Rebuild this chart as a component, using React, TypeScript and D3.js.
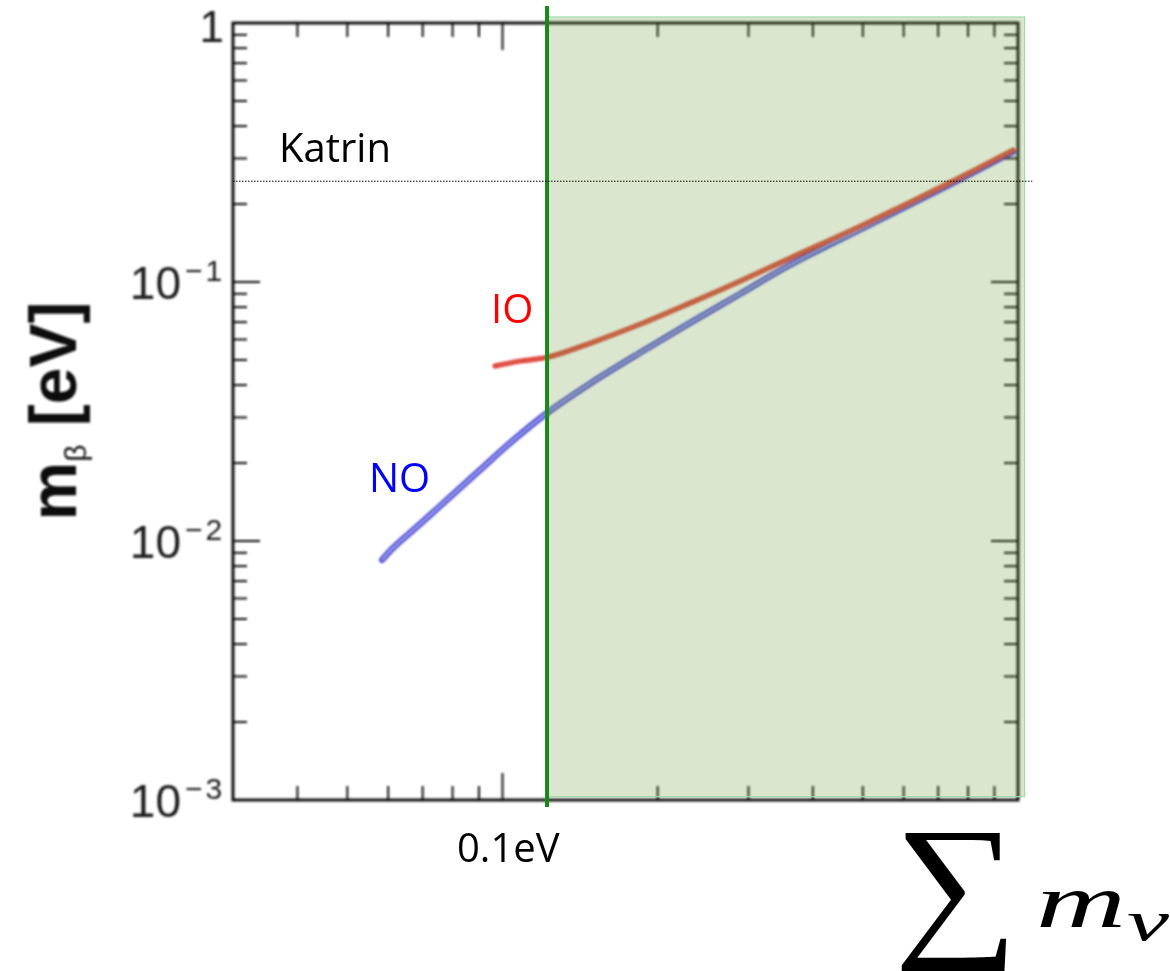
import React from 'react';
import * as d3 from 'd3';

const W = 1170;
const H = 971;

// Axis domains: sum of neutrino masses (eV) vs effective beta-decay mass (eV)
const xDomain: [number, number] = [0.03, 1];
const yDomain: [number, number] = [0.001, 1];

const xMajorTicks = [0.1];
const xMinorTicks = [0.04, 0.05, 0.06, 0.07, 0.08, 0.09, 0.2, 0.3, 0.4, 0.5, 0.6, 0.7, 0.8, 0.9];
const yMajorTicks = [0.01, 0.1];
const yMinorTicks = [2, 3, 4, 5, 6, 7, 8, 9].flatMap((m) => [m * 0.001, m * 0.01, m * 0.1]);

const yTickValues = [1, 0.1, 0.01, 0.001];
const yTickBases = ['1', '10', '10', '10'];
const yTickExponents = ['', '−1', '−2', '−3'];

// Inverted ordering (IO) band
const ioSum = [0.0967, 0.1081, 0.1231, 0.1478, 0.1848, 0.2311, 0.2888, 0.3612, 0.5004, 0.7284, 0.9779];
const ioMbeta = [0.0474, 0.0495, 0.0514, 0.058, 0.0687, 0.0829, 0.1007, 0.1236, 0.166, 0.239, 0.323];

// Normal ordering (NO) band
const noSum = [0.0584, 0.061, 0.0692, 0.0791, 0.0904, 0.1034, 0.122, 0.1478, 0.1848, 0.2311, 0.2888, 0.3612, 0.5004, 0.7284, 0.9779];
const noMbeta = [0.00845, 0.00931, 0.01163, 0.01479, 0.01879, 0.0239, 0.0312, 0.0405, 0.0533, 0.0695, 0.0899, 0.1164, 0.1616, 0.2348, 0.318];

// Cosmological bound and shaded excluded region
const cosmoBound = 0.122;
const cosmoLineTop = 1.163;
const cosmoLineBottom = 0.00094;
const shadeRight = 1.03;
const shadeTop = 1.055;
const shadeBottom = 0.00103;

// KATRIN sensitivity
const katrin = 0.245;
const katrinRight = 1.066;

const margin = { left: 233, top: 23, right: 1018, bottom: 800 };

export default function App() {
  const x = d3.scaleLog().domain(xDomain).range([margin.left, margin.right]);
  const y = d3.scaleLog().domain(yDomain).range([margin.bottom, margin.top]);

  const line = d3
    .line<[number, number]>()
    .x((d) => x(d[0]))
    .y((d) => y(d[1]))
    .curve(d3.curveCatmullRom.alpha(0.5));

  const ioPts = ioSum.map((s, i) => [s, ioMbeta[i]] as [number, number]);
  const noPts = noSum.map((s, i) => [s, noMbeta[i]] as [number, number]);

  const majorLen = 27;
  const minorLen = 14;
  const axisColor = '#111';

  return (
    <svg
      width={W}
      height={H}
      viewBox={`0 0 ${W} ${H}`}
      style={{ position: 'absolute', left: 0, top: 0, background: '#fff' }}
    >
      <defs>
        <filter id="soft" x="-5%" y="-5%" width="110%" height="110%">
          <feGaussianBlur stdDeviation="0.8" />
        </filter>
      </defs>
      <rect x={0} y={0} width={W} height={H} fill="#fff" />

      <g filter="url(#soft)">
        {/* bands */}
        <path d={line(noPts) || ''} fill="none" stroke="#3434d4" strokeWidth={6} strokeLinecap="round" strokeLinejoin="round" />
        <path d={line(noPts) || ''} fill="none" stroke="#a8a8f0" strokeWidth={2} strokeLinecap="round" />
        <path d={line(ioPts) || ''} fill="none" stroke="#d82a22" strokeWidth={5} strokeLinecap="round" strokeLinejoin="round" />
        <path d={line(ioPts) || ''} fill="none" stroke="#ec6a5a" strokeWidth={1.5} strokeLinecap="round" />

        {/* frame */}
        <rect
          x={margin.left}
          y={margin.top}
          width={margin.right - margin.left}
          height={margin.bottom - margin.top}
          fill="none"
          stroke={axisColor}
          strokeWidth={3}
        />

        {/* x ticks, bottom and top, pointing inward */}
        {xMajorTicks.concat(xMinorTicks).map((v) => {
          const len = xMajorTicks.includes(v) ? majorLen : minorLen;
          const px = x(v);
          return (
            <g key={`xt${v}`}>
              <line x1={px} x2={px} y1={margin.bottom} y2={margin.bottom - len} stroke={axisColor} strokeWidth={2} />
              <line x1={px} x2={px} y1={margin.top} y2={margin.top + len} stroke={axisColor} strokeWidth={2} />
            </g>
          );
        })}

        {/* y ticks, left and right, pointing inward */}
        {yMajorTicks.concat(yMinorTicks).map((v) => {
          const len = yMajorTicks.includes(v) ? majorLen : minorLen;
          const py = y(v);
          return (
            <g key={`yt${v}`}>
              <line x1={margin.left} x2={margin.left + len} y1={py} y2={py} stroke={axisColor} strokeWidth={2} />
              <line x1={margin.right} x2={margin.right - len} y1={py} y2={py} stroke={axisColor} strokeWidth={2} />
            </g>
          );
        })}

        {/* y tick labels */}
        {yTickValues.map((v, i) =>
          yTickExponents[i] ? (
            <g key={`yl${v}`} fontFamily="'Liberation Sans', Arial, sans-serif" fill="#1e1e1e">
              <text x={181} y={y(v) + 17} textAnchor="end" fontSize={46}>
                {yTickBases[i]}
              </text>
              <text x={185} y={y(v) - 1} fontSize={30} letterSpacing={3}>
                {yTickExponents[i]}
              </text>
            </g>
          ) : (
            <text
              key={`yl${v}`}
              x={224}
              y={y(v) + 19}
              textAnchor="end"
              fontFamily="'Liberation Sans', Arial, sans-serif"
              fontSize={44}
              fill="#1e1e1e"
            >
              {yTickBases[i]}
            </text>
          )
        )}

        {/* y axis title */}
        <text
          transform="translate(76,411) rotate(-90)"
          textAnchor="middle"
          fontFamily="'Liberation Sans', Arial, sans-serif"
          fontWeight="bold"
          fontSize={66}
          fill="#111"
        >
          m
          <tspan fontSize={30} fontWeight="normal" dy={10}>
            β
          </tspan>
          <tspan dy={-10}> [eV]</tspan>
        </text>
      </g>

      {/* excluded region */}
      <rect
        x={x(cosmoBound)}
        y={y(shadeTop)}
        width={x(shadeRight) - x(cosmoBound)}
        height={y(shadeBottom) - y(shadeTop)}
        fill="#6a9a3a"
        fillOpacity={0.25}
        stroke="#9fdca8"
        strokeWidth={1.2}
      />

      {/* cosmological bound */}
      <line
        x1={x(cosmoBound)}
        x2={x(cosmoBound)}
        y1={y(cosmoLineTop)}
        y2={y(cosmoLineBottom)}
        stroke="#168a16"
        strokeWidth={4}
      />

      {/* KATRIN line */}
      <line
        x1={x(xDomain[0])}
        x2={x(katrinRight)}
        y1={y(katrin)}
        y2={y(katrin)}
        stroke="#000"
        strokeWidth={1}
        strokeDasharray="1.5 1.5"
      />

      <g fontFamily="'Open Sans', 'Noto Sans', sans-serif" fontSize={40}>
        <text x={279} y={162} fill="#000">Katrin</text>
        <text x={457} y={862} fill="#000">0.1eV</text>
        <text x={491} y={323} fill="#ff0000">IO</text>
        <text x={369} y={492} fill="#0000ff">NO</text>
      </g>

      {/* axis label: sum of neutrino masses */}
      <g fontFamily="'Liberation Serif', 'DejaVu Serif', serif" fill="#000">
        <text transform="translate(894,937) scale(1.14,1.04)" fontSize={153}>∑</text>
        <text x={1036} y={927} fontSize={76} fontStyle="italic" textLength={90} lengthAdjust="spacingAndGlyphs">m</text>
        <text x={1127} y={940} fontSize={58} fontStyle="italic" textLength={42} lengthAdjust="spacingAndGlyphs">ν</text>
      </g>
    </svg>
  );
}
